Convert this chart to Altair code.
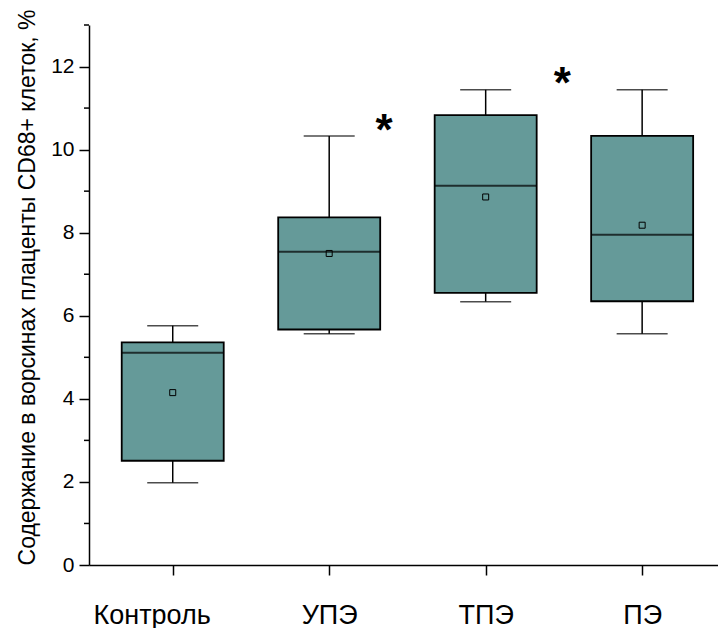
import altair as alt
import pandas as pd

# Group statistics for CD68+ cell content (%)
groups = ["Контроль", "УПЭ", "ТПЭ", "ПЭ"]
positions = [1, 2, 3, 4]
whisker_low = [1.98, 5.57, 6.34, 5.57]
q1 = [2.51, 5.67, 6.55, 6.35]
median = [5.11, 7.54, 9.13, 7.95]
q3 = [5.36, 8.37, 10.83, 10.33]
whisker_high = [5.76, 10.33, 11.44, 11.44]
means = [4.15, 7.50, 8.86, 8.18]

# Significance markers
star_x = [2.35, 3.49]
star_y = [10.70, 11.83]

# Minor y ticks
minor_ticks = [1, 3, 5, 7, 9, 11, 13]

box_df = pd.DataFrame({
    "group": groups,
    "pos": positions,
    "lo": whisker_low,
    "q1": q1,
    "med": median,
    "q3": q3,
    "hi": whisker_high,
    "mean": means,
})
star_df = pd.DataFrame({"x": star_x, "y": star_y, "t": ["*"] * len(star_x)})
minor_df = pd.DataFrame({"v": minor_ticks})

FILL = "#659a99"
FONT = "Liberation Sans"

label_expr = "[" + ",".join("'" + g + "'" for g in groups) + "][datum.value - 1]"

x_scale = alt.Scale(domain=[0.4969, 4.4528], nice=False, zero=False)
y_scale = alt.Scale(domain=[0, 13], nice=False)

x_enc = alt.X(
    "pos:Q",
    scale=x_scale,
    axis=alt.Axis(
        values=positions,
        labelExpr=label_expr,
        title=None,
        grid=False,
        tickSize=10,
        labelFontSize=27,
        labelBaseline="alphabetic",
        labelPadding=48,
        labelFont=FONT,
        labelColor="black",
        labelOffset={"condition": {"test": "datum.value == 1", "value": -21}, "value": 0},
    ),
)

base = alt.Chart(box_df)

whiskers = base.mark_rule(color="black", strokeWidth=1.5).encode(
    x=x_enc,
    y=alt.Y(
        "lo:Q",
        scale=y_scale,
        axis=alt.Axis(
            values=[0, 2, 4, 6, 8, 10, 12],
            title="Содержание в ворсинах плаценты CD68+ клеток, %",
            titleFontSize=23,
            titleFont=FONT,
            titleFontWeight="normal",
            titleColor="black",
            titlePadding=11,
            titleY=262,
            grid=False,
            tickSize=10,
            labelFontSize=21,
            labelFont=FONT,
            labelPadding=5,
            labelColor="black",
        ),
    ),
    y2="hi:Q",
)

caps_low = base.mark_tick(orient="horizontal", size=51, thickness=1.5, color="black").encode(
    x="pos:Q", y="lo:Q"
)
caps_high = base.mark_tick(orient="horizontal", size=51, thickness=1.5, color="black").encode(
    x="pos:Q", y="hi:Q"
)

boxes = base.mark_bar(size=102, fill=FILL, stroke="black", strokeWidth=1.8).encode(
    x="pos:Q", y="q1:Q", y2="q3:Q"
)

medians = base.mark_tick(orient="horizontal", size=102, thickness=2, color="black").encode(
    x="pos:Q", y="med:Q"
)

mean_pts = base.mark_point(
    shape="square", size=36, filled=False, stroke="black", strokeWidth=1, opacity=1
).encode(x="pos:Q", y="mean:Q")

stars = alt.Chart(star_df).mark_text(
    font=FONT, fontSize=44, fontWeight="bold", color="black", baseline="alphabetic", dy=24
).encode(x="x:Q", y="y:Q", text="t:N")

minor = alt.Chart(minor_df).mark_rule(color="black", strokeWidth=1.5).encode(
    x=alt.value(-5), x2=alt.value(0), y=alt.Y("v:Q")
)

chart = (
    alt.layer(whiskers, caps_low, caps_high, boxes, medians, mean_pts, stars, minor)
    .properties(
        width=629,
        height=540,
        autosize=alt.AutoSizeParams(type="none"),
        padding={"left": 89, "top": 25, "right": 0, "bottom": 63},
        background="white",
    )
    .configure_view(stroke=None)
    .configure_axis(
        domainColor="black",
        domainWidth=1.5,
        tickColor="black",
        tickWidth=1.5,
    )
)

chart.save("out.html", embed_options={"renderer": "svg", "actions": False})
